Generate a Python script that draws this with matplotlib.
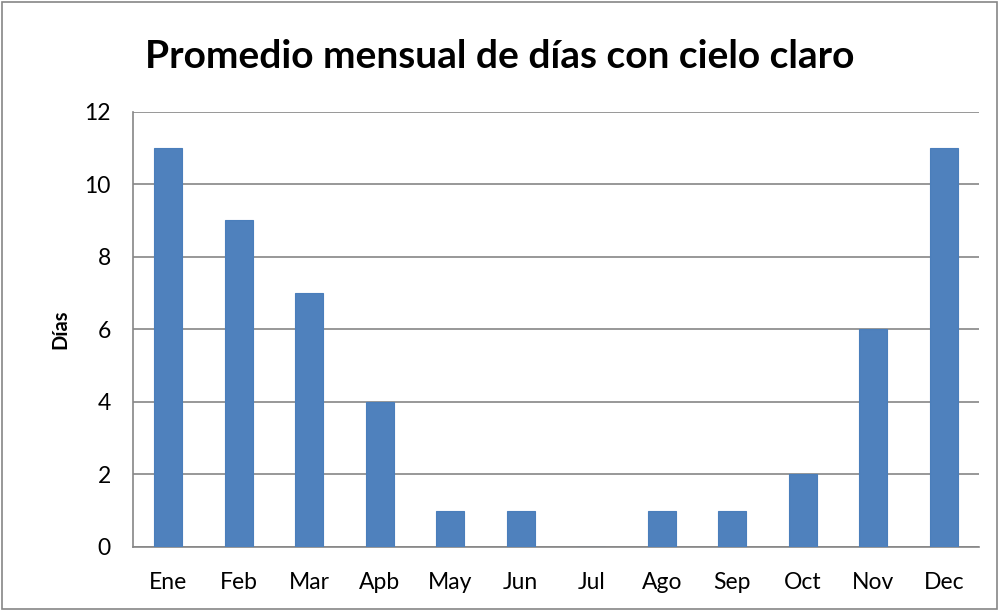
import matplotlib
matplotlib.use('Agg')
import matplotlib.pyplot as plt
from matplotlib.patches import Rectangle

meses = ['Ene', 'Feb', 'Mar', 'Apb', 'May', 'Jun', 'Jul', 'Ago', 'Sep', 'Oct', 'Nov', 'Dec']
dias = [11, 9, 7, 4, 1, 1, 0, 1, 1, 2, 6, 11]

plt.rcParams['font.family'] = ['Lato', 'DejaVu Sans']

fig = plt.figure(figsize=(10, 6.11), dpi=100)
ax = fig.add_axes([0.133, 0.105, 0.846, 0.7125])

x = range(len(meses))
ax.bar(x, dias, width=0.4, color='#4F81BD', edgecolor='#4A7EBB', linewidth=0.8, zorder=3)

ax.set_xlim(-0.5, len(meses) - 0.5)
ax.set_ylim(0, 12)
ax.set_yticks(range(0, 13, 2))
ax.set_xticks(list(x))
ax.set_xticklabels(meses)
ax.tick_params(axis='both', length=0, labelsize=16.5, colors='black')
ax.tick_params(axis='x', pad=18)
ax.tick_params(axis='y', pad=16)
ax.grid(axis='y', color='#868686', linewidth=1.2, zorder=0)

for s in ['top', 'right']:
    ax.spines[s].set_visible(False)
for s in ['left', 'bottom']:
    ax.spines[s].set_color('#868686')
    ax.spines[s].set_linewidth(1.2)

ax.set_ylabel('Días', fontsize=14.5, fontweight='bold')
ax.yaxis.set_label_coords(-0.074, 0.5)
fig.text(0.5, 0.907, 'Promedio mensual de días con cielo claro', ha='center', va='center',
         fontsize=28, fontweight='bold')

# marco del gráfico
fig.patches.append(Rectangle((0.002, 0.003), 0.995, 0.994, transform=fig.transFigure,
                             fill=False, edgecolor='#868686', linewidth=1.2))

plt.savefig('out.png', dpi=100)
plt.close()
